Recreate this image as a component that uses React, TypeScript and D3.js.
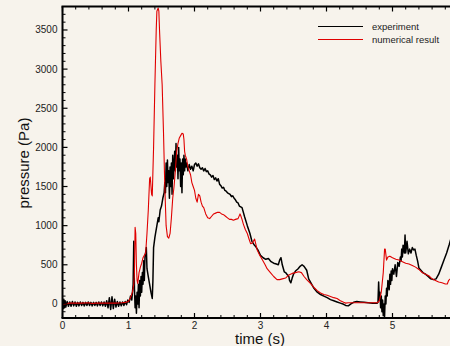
import React from "react";
import * as d3 from "d3";

const expT = [0.00,0.01,0.02,0.03,0.04,0.05,0.07,0.09,0.11,0.13,0.15,0.17,0.19,0.21,0.23,0.25,0.27,0.29,0.31,0.33,0.35,0.37,0.39,0.41,0.43,0.45,0.47,0.49,0.51,0.53,0.55,0.57,0.59,0.61,0.63,0.65,0.67,0.69,0.71,0.73,0.75,0.77,0.79,0.81,0.83,0.85,0.87,0.89,0.91,0.93,0.95,0.97,0.99,1.01,1.03,1.05,1.07,1.08,1.09,1.10,1.11,1.12,1.13,1.14,1.15,1.16,1.17,1.18,1.19,1.20,1.21,1.22,1.23,1.24,1.25,1.27,1.28,1.30,1.32,1.34,1.36,1.37,1.38,1.40,1.41,1.43,1.45,1.46,1.48,1.50,1.52,1.54,1.55,1.56,1.57,1.58,1.59,1.60,1.61,1.62,1.63,1.64,1.65,1.66,1.67,1.68,1.70,1.71,1.72,1.73,1.74,1.75,1.76,1.77,1.78,1.79,1.80,1.81,1.82,1.83,1.84,1.85,1.86,1.87,1.88,1.90,1.92,1.94,1.96,1.98,2.00,2.02,2.04,2.06,2.08,2.10,2.12,2.14,2.16,2.18,2.20,2.22,2.24,2.26,2.28,2.30,2.32,2.34,2.36,2.38,2.40,2.42,2.44,2.46,2.48,2.50,2.52,2.54,2.56,2.58,2.60,2.62,2.64,2.66,2.68,2.72,2.76,2.80,2.84,2.87,2.90,2.93,2.96,3.00,3.04,3.08,3.12,3.16,3.20,3.24,3.27,3.29,3.31,3.33,3.36,3.38,3.40,3.43,3.44,3.46,3.48,3.50,3.53,3.57,3.60,3.63,3.66,3.70,3.73,3.77,3.81,3.86,3.91,3.96,4.01,4.06,4.11,4.16,4.21,4.26,4.29,4.33,4.37,4.41,4.46,4.51,4.57,4.63,4.70,4.75,4.77,4.78,4.79,4.80,4.81,4.82,4.83,4.84,4.85,4.86,4.87,4.88,4.89,4.90,4.91,4.92,4.93,4.95,4.96,4.97,4.98,4.99,5.00,5.02,5.04,5.06,5.08,5.10,5.12,5.13,5.14,5.15,5.16,5.18,5.19,5.20,5.22,5.24,5.26,5.28,5.30,5.32,5.34,5.36,5.38,5.40,5.43,5.46,5.50,5.54,5.58,5.62,5.66,5.70,5.74,5.78,5.82,5.86,5.90];
const expP = [30,-60,60,-50,40,-40,30,-30,25,-30,30,-25,25,-30,20,-25,25,-20,20,-25,20,-20,25,-20,20,-25,20,-20,20,-25,25,-20,25,-25,25,-30,40,-50,80,-70,90,-60,60,-40,30,-30,25,-25,25,-20,30,-10,50,20,100,50,250,800,200,-50,100,-120,150,0,250,-50,300,100,350,150,400,250,550,300,600,720,450,350,250,150,70,300,720,850,900,1000,1100,1050,1200,1250,1350,1420,1550,1420,1800,1500,1840,1550,1700,1350,1750,1500,1800,1400,1900,1600,1950,1700,2050,1750,1900,1600,2000,1700,1850,1500,1800,1420,1850,1650,1900,1700,1850,1750,1800,1700,1780,1720,1760,1700,1780,1800,1760,1790,1740,1720,1740,1700,1730,1690,1700,1660,1650,1620,1640,1590,1610,1570,1600,1530,1510,1480,1490,1450,1440,1420,1410,1400,1370,1380,1350,1330,1300,1290,1250,1230,1110,1000,900,800,760,730,690,620,590,570,580,540,520,510,500,560,590,500,410,400,380,350,300,270,330,380,420,450,480,500,480,430,320,260,200,150,120,100,80,55,40,25,10,-5,-20,-25,0,20,30,25,20,15,10,10,10,20,280,50,150,-50,100,-100,50,-150,0,-160,100,0,200,100,300,180,380,250,420,300,450,380,500,350,530,480,600,550,700,600,750,650,880,650,800,640,700,650,720,690,700,620,550,460,430,400,380,350,320,310,320,380,470,560,650,760,880,980];

const numT = [0.00,0.05,0.10,0.20,0.30,0.40,0.45,0.50,0.60,0.70,0.80,0.90,0.95,1.00,1.03,1.06,1.08,1.09,1.10,1.11,1.12,1.13,1.14,1.16,1.18,1.20,1.22,1.24,1.26,1.28,1.30,1.32,1.33,1.35,1.36,1.38,1.40,1.42,1.43,1.45,1.46,1.47,1.49,1.51,1.53,1.55,1.57,1.59,1.61,1.63,1.65,1.67,1.69,1.71,1.73,1.75,1.77,1.79,1.81,1.83,1.84,1.85,1.86,1.88,1.90,1.92,1.94,1.96,1.98,2.00,2.02,2.04,2.06,2.08,2.10,2.12,2.14,2.17,2.20,2.23,2.26,2.29,2.32,2.35,2.38,2.41,2.44,2.47,2.50,2.53,2.56,2.59,2.62,2.66,2.69,2.70,2.72,2.74,2.77,2.80,2.83,2.85,2.88,2.91,2.93,2.95,2.99,3.03,3.07,3.10,3.15,3.20,3.25,3.29,3.33,3.38,3.43,3.48,3.53,3.58,3.62,3.66,3.70,3.76,3.81,3.86,3.91,3.96,4.01,4.06,4.11,4.16,4.21,4.26,4.29,4.33,4.40,4.50,4.60,4.70,4.77,4.80,4.83,4.86,4.88,4.89,4.91,4.93,4.96,5.00,5.05,5.10,5.15,5.20,5.25,5.30,5.35,5.40,5.45,5.50,5.55,5.60,5.65,5.70,5.75,5.80,5.83,5.85,5.88];
const numP = [-10,0,10,10,10,15,5,10,10,10,10,15,20,30,80,150,250,400,980,900,500,300,260,400,470,520,590,620,650,900,1200,1600,1620,1400,1380,2000,2800,3500,3740,3780,3740,3500,3100,2800,2200,1500,1000,860,840,900,1100,1350,1500,1700,1950,2050,2120,2150,2180,2170,2100,1950,1900,1850,1750,1700,1650,1550,1500,1450,1350,1300,1400,1380,1300,1250,1230,1150,1100,1090,1120,1150,1160,1170,1170,1150,1140,1120,1100,1080,1080,1070,1080,1090,1150,1130,1080,1020,950,900,820,770,780,830,760,690,620,560,500,450,400,350,310,310,320,330,370,390,400,410,400,350,310,260,210,170,140,120,110,95,80,70,40,20,10,15,15,15,15,15,15,40,150,400,700,700,560,600,610,590,570,560,540,520,510,490,470,440,400,380,360,320,300,280,270,255,255,300,320];

const yMajor = [0, 500, 1000, 1500, 2000, 2500, 3000, 3500];
const xMajor = [0, 1, 2, 3, 4, 5, 6];

const W = 450, H = 346;
const L = 62.5, R = 458.5, T = 6.5, B = 318;
const FONT = "'Liberation Sans', Arial, sans-serif";

export default function App() {
  const x = d3.scaleLinear().domain([0, 6]).range([L, R]);
  const y = d3.scaleLinear().domain([-180, 3800]).range([B, T]);
  const line = d3.line<[number, number]>().x(d => x(d[0])).y(d => y(d[1]));
  const expData: [number, number][] = expT.map((t, i) => [t, expP[i]]);
  const numData: [number, number][] = numT.map((t, i) => [t, numP[i]]);
  const yMinor = d3.range(-100, 3800, 100).filter(v => v % 500 !== 0);
  const xMinor = d3.range(0, 6.01, 0.2).filter(v => Math.abs(v - Math.round(v)) > 0.01);

  return (
    <div style={{ position: "fixed", left: 0, top: 0, width: W, height: H, background: "#f7f3ec" }}>
      <svg width={W} height={H} style={{ display: "block" }} fontFamily={FONT}>
        <rect x={0} y={0} width={W} height={H} fill="#f7f3ec" />
        <defs>
          <clipPath id="plot">
            <rect x={L} y={T} width={R - L} height={B - T} />
          </clipPath>
        </defs>
        <g clipPath="url(#plot)">
          <path d={line(expData) || ""} fill="none" stroke="#000" strokeWidth={1.5} strokeLinejoin="round" />
          <path d={line(numData) || ""} fill="none" stroke="#e00000" strokeWidth={1.1} strokeLinejoin="round" />
        </g>
        <line x1={L} x2={L} y1={T} y2={B} stroke="#000" strokeWidth={2} />
        <line x1={L - 1} x2={W} y1={T} y2={T} stroke="#000" strokeWidth={2} />
        <line x1={L - 1} x2={W} y1={B} y2={B} stroke="#000" strokeWidth={2} />
        {yMajor.map(v => (
          <g key={"ym" + v}>
            <line x1={L} x2={L + 5} y1={y(v)} y2={y(v)} stroke="#000" strokeWidth={1.2} />
            <text x={L - 5} y={y(v)} dy="0.35em" textAnchor="end" fontSize={10} fill="#222">{v}</text>
          </g>
        ))}
        {yMinor.map(v => (
          <line key={"yn" + v} x1={L} x2={L + 3} y1={y(v)} y2={y(v)} stroke="#000" strokeWidth={1} />
        ))}
        {xMajor.map(v => (
          <g key={"xm" + v}>
            <line x1={x(v)} x2={x(v)} y1={B} y2={B - 5} stroke="#000" strokeWidth={1.2} />
            <line x1={x(v)} x2={x(v)} y1={T} y2={T + 5} stroke="#000" strokeWidth={1.2} />
            {x(v) < W - 5 && (
              <text x={x(v)} y={329} textAnchor="middle" fontSize={10} fill="#222">{v}</text>
            )}
          </g>
        ))}
        {xMinor.map(v => (
          <g key={"xn" + v.toFixed(1)}>
            <line x1={x(v)} x2={x(v)} y1={B} y2={B - 3} stroke="#000" strokeWidth={1} />
            <line x1={x(v)} x2={x(v)} y1={T} y2={T + 3} stroke="#000" strokeWidth={1} />
          </g>
        ))}
        <text x={260} y={344} textAnchor="middle" fontSize={15} fill="#111">time (s)</text>
        <text transform="translate(29,163) rotate(-90)" textAnchor="middle" fontSize={15} fill="#111">pressure (Pa)</text>
        <line x1={318} x2={363} y1={26.5} y2={26.5} stroke="#000" strokeWidth={1.2} />
        <line x1={318} x2={363} y1={39.5} y2={39.5} stroke="#e00000" strokeWidth={1.2} />
        <text x={372} y={30} fontSize={9.5} fill="#222">experiment</text>
        <text x={372} y={43} fontSize={9.5} fill="#222">numerical result</text>
      </svg>
    </div>
  );
}
